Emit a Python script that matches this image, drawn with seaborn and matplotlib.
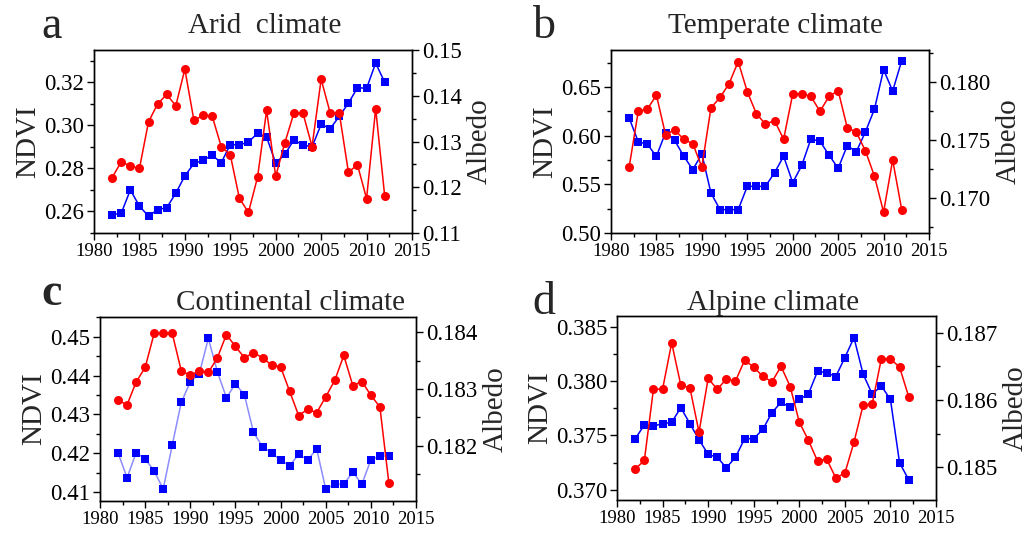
import numpy as np
import pandas as pd
import matplotlib
matplotlib.use("Agg")
import matplotlib.pyplot as plt
import seaborn as sns
from matplotlib.ticker import MultipleLocator, FormatStrFormatter

sns.set_style("ticks")
plt.rcParams['font.family'] = ['Liberation Serif', 'DejaVu Serif']
plt.rcParams['mathtext.fontset'] = 'stix'

years = list(range(1982, 2013))

# ---- a: Arid climate ----
arid_ndvi = [0.2585, 0.2592, 0.2700, 0.2625, 0.2578, 0.2609, 0.2617, 0.2685, 0.2765, 0.2823,
             0.2837, 0.2862, 0.2826, 0.2911, 0.2909, 0.2923, 0.2963, 0.2945, 0.2825, 0.2865,
             0.2932, 0.2909, 0.2900, 0.3005, 0.2985, 0.3042, 0.3103, 0.3175, 0.3172, 0.3289, 0.3200]
arid_albedo = [0.1221, 0.1256, 0.1246, 0.1241, 0.1343, 0.1382, 0.1403, 0.1378, 0.1458, 0.1346,
               0.1357, 0.1356, 0.1289, 0.1271, 0.1176, 0.1145, 0.1222, 0.1368, 0.1224, 0.1297,
               0.1362, 0.1362, 0.1289, 0.1436, 0.1362, 0.1362, 0.1233, 0.1249, 0.1175, 0.1372, 0.1180]

# ---- b: Temperate climate ----
temp_ndvi = [0.6181, 0.5938, 0.5911, 0.5788, 0.6031, 0.5952, 0.5791, 0.5651, 0.5812, 0.5411,
             0.5240, 0.5240, 0.5240, 0.5479, 0.5479, 0.5479, 0.5620, 0.5788, 0.5517, 0.5695,
             0.5966, 0.5942, 0.5801, 0.5664, 0.5897, 0.5836, 0.6038, 0.6274, 0.6678, 0.6459, 0.6771]
temp_albedo = [0.1727, 0.1775, 0.1777, 0.1789, 0.1755, 0.1759, 0.1751, 0.1747, 0.1727, 0.1778,
               0.1787, 0.1799, 0.1818, 0.1792, 0.1773, 0.1764, 0.1767, 0.1751, 0.1790, 0.1790,
               0.1788, 0.1775, 0.1788, 0.1793, 0.1761, 0.1757, 0.1741, 0.1719, 0.1688, 0.1733, 0.1690]

# ---- c: Continental climate ----
cont_ndvi = [0.4201, 0.4137, 0.4201, 0.4186, 0.4154, 0.4108, 0.4221, 0.4331, 0.4384, 0.4405,
             0.4496, 0.4410, 0.4343, 0.4379, 0.4350, 0.4254, 0.4217, 0.4201, 0.4182, 0.4168,
             0.4197, 0.4183, 0.4211, 0.4108, 0.4120, 0.4120, 0.4152, 0.4120, 0.4183, 0.4193, 0.4193]
cont_albedo = [0.18280, 0.18272, 0.18312, 0.18338, 0.18398, 0.18398, 0.18398, 0.18332, 0.18324, 0.18332,
               0.18329, 0.18355, 0.18396, 0.18375, 0.18355, 0.18364, 0.18355, 0.18342, 0.18339, 0.18296,
               0.18253, 0.18264, 0.18258, 0.18286, 0.18315, 0.18359, 0.18306, 0.18313, 0.18289, 0.18268, 0.18133]

# ---- d: Alpine climate ----
alp_ndvi = [0.37469, 0.37595, 0.37586, 0.37607, 0.37620, 0.37755, 0.37607, 0.37460, 0.37325, 0.37298,
            0.37202, 0.37298, 0.37469, 0.37469, 0.37555, 0.37709, 0.37804, 0.37758, 0.37831, 0.37880,
            0.38089, 0.38077, 0.38040, 0.38215, 0.38399, 0.38064, 0.37880, 0.37954, 0.37831, 0.37248, 0.37092]
alp_albedo = [0.18497, 0.18510, 0.18616, 0.18616, 0.18685, 0.18622, 0.18618, 0.18552, 0.18632, 0.18616,
              0.18631, 0.18628, 0.18659, 0.18649, 0.18635, 0.18627, 0.18650, 0.18620, 0.18567, 0.18540,
              0.18509, 0.18512, 0.18484, 0.18491, 0.18537, 0.18592, 0.18594, 0.18661, 0.18661, 0.18649, 0.18605]

titles = ["Arid  climate", "Temperate climate", "Continental climate", "Alpine climate"]
letters = ["a", "b", "c", "d"]
x_ticks = [1980, 1985, 1990, 1995, 2000, 2005, 2010, 2015]

W, H = 1031, 536
fig = plt.figure(figsize=(W / 100, H / 100), dpi=100)

def px_rect(x0, y0, x1, y1):
    return [x0 / W, 1 - y1 / H, (x1 - x0) / W, (y1 - y0) / H]

panels = [
    dict(rect=px_rect(94, 50, 412, 233), ndvi=arid_ndvi, alb=arid_albedo,
         ylim=(0.25, 0.335), yl_major=0.02, yl_minor=0.01, yl_fmt="%.2f",
         yr=(0.11, 0.15), yr_major=0.01, yr_minor=0.005, yr_fmt="%.2f",
         title_xy=(265, 33), letter_xy=(52, 38), letter_bold=False, blue_line="#0000ff"),
    dict(rect=px_rect(611, 50, 929, 233), ndvi=temp_ndvi, alb=temp_albedo,
         ylim=(0.50, 0.688), yl_major=0.05, yl_minor=0.025, yl_fmt="%.2f",
         yr=(0.167, 0.1828), yr_major=0.005, yr_minor=0.0025, yr_fmt="%.3f",
         title_xy=(775, 33), letter_xy=(544, 38), letter_bold=False, blue_line="#0000ff"),
    dict(rect=px_rect(100, 317, 416, 501), ndvi=cont_ndvi, alb=cont_albedo,
         ylim=(0.4077, 0.4551), yl_major=0.01, yl_minor=0.005, yl_fmt="%.2f",
         yr=(0.18102, 0.18427), yr_major=0.001, yr_minor=0.0005, yr_fmt="%.3f",
         title_xy=(290, 310), letter_xy=(52, 305), letter_bold=True, blue_line="#8c8cff"),
    dict(rect=px_rect(617, 316, 936, 500), ndvi=alp_ndvi, alb=alp_albedo,
         ylim=(0.36905, 0.38598), yl_major=0.005, yl_minor=0.0025, yl_fmt="%.3f",
         yr=(0.18451, 0.18725), yr_major=0.001, yr_minor=0.0005, yr_fmt="%.3f",
         title_xy=(773, 310), letter_xy=(544, 314), letter_bold=False, blue_line="#0000ff"),
]

for i, p in enumerate(panels):
    ax = fig.add_axes(p["rect"])
    ax2 = ax.twinx()
    df = pd.DataFrame({"year": years, "ndvi": p["ndvi"], "albedo": p["alb"]})
    sns.lineplot(data=df, x="year", y="ndvi", ax=ax, color=p["blue_line"], lw=1.1,
                 marker="s", markersize=5.5, markerfacecolor="#0000ff",
                 markeredgecolor="#0000ff", markeredgewidth=0, zorder=3)
    sns.lineplot(data=df, x="year", y="albedo", ax=ax2, color="#ff0000", lw=1.1,
                 marker="o", markersize=6.5, markerfacecolor="#ff0000",
                 markeredgecolor="#ff0000", markeredgewidth=0, zorder=3)
    ax.set_xlim(1980, 2015)
    ax.set_xticks(x_ticks)
    ax.xaxis.set_minor_locator(MultipleLocator(2.5))
    ax.set_ylim(*p["ylim"])
    ax2.set_ylim(*p["yr"])
    ax.yaxis.set_major_locator(MultipleLocator(p["yl_major"]))
    ax.yaxis.set_minor_locator(MultipleLocator(p["yl_minor"]))
    ax.yaxis.set_major_formatter(FormatStrFormatter(p["yl_fmt"]))
    ax2.yaxis.set_major_locator(MultipleLocator(p["yr_major"]))
    ax2.yaxis.set_minor_locator(MultipleLocator(p["yr_minor"]))
    ax2.yaxis.set_major_formatter(FormatStrFormatter(p["yr_fmt"]))
    ax.set_xlabel("")
    ax.set_ylabel("NDVI", fontsize=21, labelpad=2)
    ax2.set_ylabel("Albedo", fontsize=21, labelpad=4)
    for a in (ax, ax2):
        for s in a.spines.values():
            s.set_visible(True)
            s.set_linewidth(1.0)
            s.set_color("black")
        a.tick_params(which="major", direction="out", length=5, width=1.0, colors="black")
        a.tick_params(which="minor", direction="out", length=3, width=1.0, colors="black")
    ax.tick_params(axis="x", which="both", top=False)
    ax.tick_params(axis="x", labelsize=13.5, pad=2)
    ax.tick_params(axis="y", labelsize=16.5, pad=2)
    ax2.tick_params(axis="y", labelsize=16.5, pad=2)
    ax.grid(False)
    ax2.grid(False)
    tx, ty = p["title_xy"]
    fig.text(tx / W, 1 - ty / H, titles[i], fontsize=21, ha="center", va="baseline")
    lx, ly = p["letter_xy"]
    fig.text(lx / W, 1 - ly / H, letters[i], fontsize=33, ha="center", va="baseline",
             fontweight="bold" if p["letter_bold"] else "normal")

fig.savefig("out.png", dpi=100)
